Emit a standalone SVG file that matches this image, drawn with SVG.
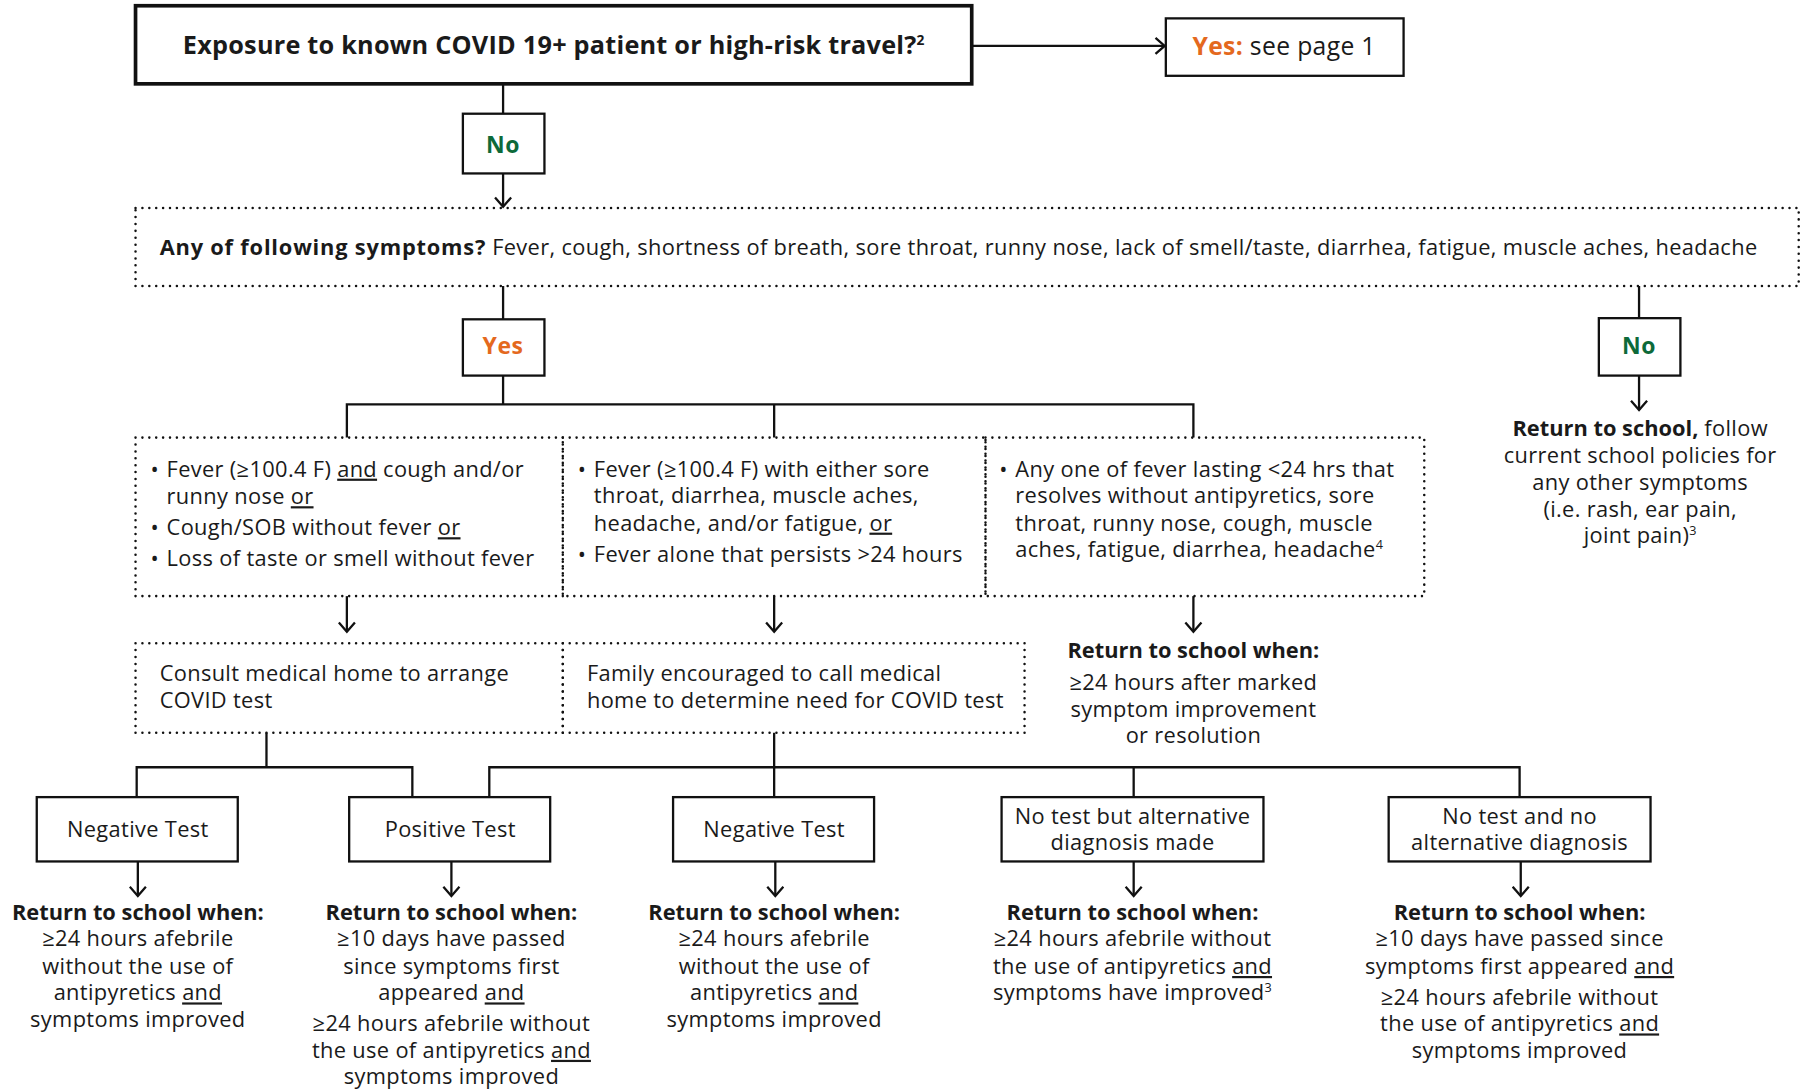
<svg xmlns="http://www.w3.org/2000/svg" width="1801" height="1089" viewBox="0 0 1801 1089">
<defs>
<marker id="ah" viewBox="-10 -8 12 16" refX="0" refY="0" markerWidth="12" markerHeight="16" markerUnits="userSpaceOnUse" orient="auto">
<path d="M-8,-7 L0,0 L-8,7" fill="none" stroke="#111" stroke-width="2" stroke-linejoin="miter"/>
</marker>
</defs>
<style>
text{font-family:"Open Sans","Liberation Sans",sans-serif;fill:#1a1a1a;font-size:19px;letter-spacing:0.3px}
.b{font-weight:bold}
.h{font-weight:bold;letter-spacing:0}
.c{text-anchor:middle}
.title{font-size:22px;letter-spacing:0.2px}
.yp{font-size:21.5px}
.box{fill:#fff;stroke:#111;stroke-width:2}
.big{fill:#fff;stroke:#111;stroke-width:3.2}
.dot{fill:none;stroke:#111;stroke-width:2.2;stroke-dasharray:0 6;stroke-linecap:round}
.ln{fill:none;stroke:#111;stroke-width:2}
.arr{marker-end:url(#ah)}
.or{fill:#E4691E}
.gr{fill:#0D6A3A}
.u{text-decoration:underline}
.yn{font-size:20px;font-weight:bold;letter-spacing:0.5px}
</style>
<rect width="1801" height="1089" fill="#fff"/>
<g transform="scale(1.14860)">
<g id="connectors">
<path class="ln arr" d="M846,40 H1014"/>
<path class="ln" d="M438,73 V99"/>
<path class="ln arr" d="M438,151 V180"/>
<path class="ln" d="M438,249 V278"/>
<path class="ln" d="M438,327 V352 M302,381 V352 H1039 V381 M674,352 V381"/>
<path class="ln" d="M1427,249 V277"/>
<path class="ln arr" d="M1427,327 V357"/>
<path class="ln arr" d="M302,519 V550"/>
<path class="ln arr" d="M674,519 V550"/>
<path class="ln arr" d="M1039,519 V550"/>
<path class="ln" d="M232,638 V668 M119,694 V668 H359 V694"/>
<path class="ln" d="M674,638 V694 M426,694 V668 H1323 V694 M987,668 V694"/>
<path class="ln arr" d="M120,750 V780"/>
<path class="ln arr" d="M393,750 V780"/>
<path class="ln arr" d="M675,750 V780"/>
<path class="ln arr" d="M987,750 V780"/>
<path class="ln arr" d="M1324,750 V780"/>
</g>
<g id="exposure">
<rect class="big" x="118" y="5" width="728" height="68"/>
<text class="b c title" x="482" y="47">Exposure to known COVID 19+ patient or high-risk travel?<tspan dy="-8" font-size="12" letter-spacing="0">2</tspan></text>
</g>
<g id="yes-page1">
<rect class="box" x="1015" y="16" width="207" height="50"/>
<text class="c yp" x="1118" y="48"><tspan class="b or">Yes:</tspan> see page 1</text>
</g>
<g id="no1">
<rect class="box" x="403" y="99" width="71" height="52"/>
<text class="c yn gr" x="438" y="133">No</text>
</g>
<g id="symptoms">
<rect class="dot" x="118" y="181" width="1448" height="68"/>
<text x="139" y="222"><tspan class="b" letter-spacing="0.7">Any of following symptoms?</tspan> Fever, cough, shortness of breath, sore throat, runny nose, lack of smell/taste, diarrhea, fatigue, muscle aches, headache</text>
</g>
<g id="yes1">
<rect class="box" x="403" y="278" width="71" height="49"/>
<text class="c yn or" x="438" y="308">Yes</text>
</g>
<g id="no2">
<rect class="box" x="1392" y="277" width="71" height="50"/>
<text class="c yn gr" x="1427" y="308">No</text>
</g>
<g id="return-no">
<text class="c" x="1428" y="380"><tspan class="b" letter-spacing="0">Return to school,</tspan> follow</text>
<text class="c" x="1428" y="403">current school policies for</text>
<text class="c" x="1428" y="427">any other symptoms</text>
<text class="c" x="1428" y="450">(i.e. rash, ear pain,</text>
<text class="c" x="1428" y="473">joint pain)<tspan dy="-7" font-size="11">3</tspan></text>
</g>
<g id="crit1">
<rect class="dot" x="118" y="381" width="372" height="138"/>
<text x="131" y="415">•</text><text x="145" y="415">Fever (≥100.4 F) <tspan class="u">and</tspan> cough and/or</text>
<text x="145" y="439">runny nose <tspan class="u">or</tspan></text>
<text x="131" y="466">•</text><text x="145" y="466">Cough/SOB without fever <tspan class="u">or</tspan></text>
<text x="131" y="493">•</text><text x="145" y="493">Loss of taste or smell without fever</text>
</g>
<g id="crit2">
<rect class="dot" x="490" y="381" width="368" height="138"/>
<text x="503" y="415">•</text><text x="517" y="415">Fever (≥100.4 F) with either sore</text>
<text x="517" y="438">throat, diarrhea, muscle aches,</text>
<text x="517" y="462">headache, and/or fatigue, <tspan class="u">or</tspan></text>
<text x="503" y="489">•</text><text x="517" y="489">Fever alone that persists &gt;24 hours</text>
</g>
<g id="crit3">
<rect class="dot" x="858" y="381" width="382" height="138"/>
<text x="870" y="415">•</text><text x="884" y="415">Any one of fever lasting &lt;24 hrs that</text>
<text x="884" y="438">resolves without antipyretics, sore</text>
<text x="884" y="462">throat, runny nose, cough, muscle</text>
<text x="884" y="485">aches, fatigue, diarrhea, headache<tspan dy="-7" font-size="11">4</tspan></text>
</g>
<g id="consult">
<rect class="dot" x="118" y="560" width="372" height="78"/>
<text x="139" y="593">Consult medical home to arrange</text>
<text x="139" y="616">COVID test</text>
</g>
<g id="family">
<rect class="dot" x="490" y="560" width="402" height="78"/>
<text x="511" y="593">Family encouraged to call medical</text>
<text x="511" y="616">home to determine need for COVID test</text>
</g>
<g id="return-mild">
<text class="h c" x="1039" y="573">Return to school when:</text>
<text class="c" x="1039" y="601">≥24 hours after marked</text>
<text class="c" x="1039" y="624">symptom improvement</text>
<text class="c" x="1039" y="647">or resolution</text>
</g>
<g id="neg1">
<rect class="box" x="32" y="694" width="175" height="56"/>
<text class="c" x="120" y="729">Negative Test</text>
</g>
<g id="pos">
<rect class="box" x="304" y="694" width="175" height="56"/>
<text class="c" x="392" y="729">Positive Test</text>
</g>
<g id="neg2">
<rect class="box" x="586" y="694" width="175" height="56"/>
<text class="c" x="674" y="729">Negative Test</text>
</g>
<g id="alt">
<rect class="box" x="872" y="694" width="228" height="56"/>
<text class="c" x="986" y="717">No test but alternative</text>
<text class="c" x="986" y="740">diagnosis made</text>
</g>
<g id="noalt">
<rect class="box" x="1209" y="694" width="228" height="56"/>
<text class="c" x="1323" y="717">No test and no</text>
<text class="c" x="1323" y="740">alternative diagnosis</text>
</g>
<g id="ret1">
<text class="h c" x="120" y="801">Return to school when:</text>
<text class="c" x="120" y="824">≥24 hours afebrile</text>
<text class="c" x="120" y="848">without the use of</text>
<text class="c" x="120" y="871">antipyretics <tspan class="u">and</tspan></text>
<text class="c" x="120" y="894">symptoms improved</text>
</g>
<g id="ret2">
<text class="h c" x="393" y="801">Return to school when:</text>
<text class="c" x="393" y="824">≥10 days have passed</text>
<text class="c" x="393" y="848">since symptoms first</text>
<text class="c" x="393" y="871">appeared <tspan class="u">and</tspan></text>
<text class="c" x="393" y="898">≥24 hours afebrile without</text>
<text class="c" x="393" y="921">the use of antipyretics <tspan class="u">and</tspan></text>
<text class="c" x="393" y="944">symptoms improved</text>
</g>
<g id="ret3">
<text class="h c" x="674" y="801">Return to school when:</text>
<text class="c" x="674" y="824">≥24 hours afebrile</text>
<text class="c" x="674" y="848">without the use of</text>
<text class="c" x="674" y="871">antipyretics <tspan class="u">and</tspan></text>
<text class="c" x="674" y="894">symptoms improved</text>
</g>
<g id="ret4">
<text class="h c" x="986" y="801">Return to school when:</text>
<text class="c" x="986" y="824">≥24 hours afebrile without</text>
<text class="c" x="986" y="848">the use of antipyretics <tspan class="u">and</tspan></text>
<text class="c" x="986" y="871">symptoms have improved<tspan dy="-7" font-size="11">3</tspan></text>
</g>
<g id="ret5">
<text class="h c" x="1323" y="801">Return to school when:</text>
<text class="c" x="1323" y="824">≥10 days have passed since</text>
<text class="c" x="1323" y="848">symptoms first appeared <tspan class="u">and</tspan></text>
<text class="c" x="1323" y="875">≥24 hours afebrile without</text>
<text class="c" x="1323" y="898">the use of antipyretics <tspan class="u">and</tspan></text>
<text class="c" x="1323" y="921">symptoms improved</text>
</g>
</g>
</svg>
